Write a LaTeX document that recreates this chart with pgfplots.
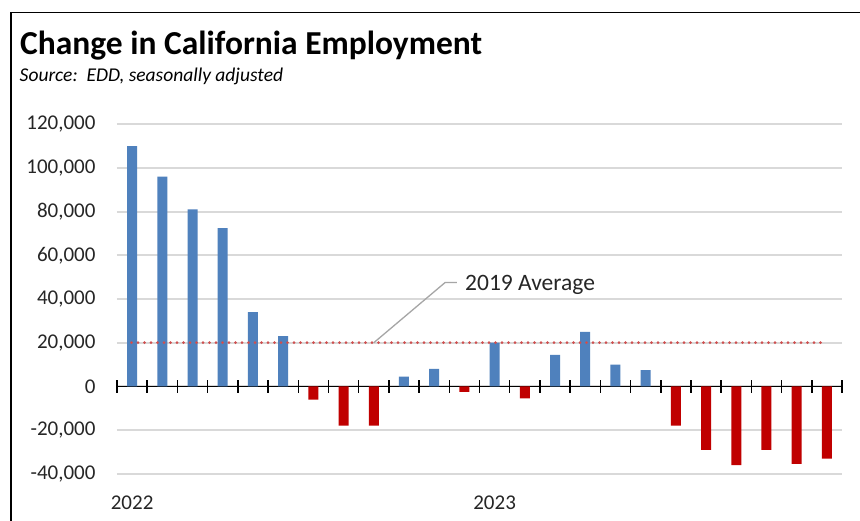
\documentclass[border=0pt]{standalone}
\usepackage{fontspec}
\setmainfont{Carlito}
\usepackage{pgfplots}
\pgfplotsset{compat=1.18}
\usepackage{pgfplotstable}
\definecolor{barblue}{HTML}{4F81BD}
\definecolor{barred}{HTML}{C00000}
\definecolor{gridgray}{HTML}{D9D9D9}
\definecolor{dotred}{HTML}{CF4F4F}
\definecolor{annogray}{HTML}{A6A6A6}
\definecolor{txt}{HTML}{262626}

\pgfplotstableread{
x y
0 110000
1 96000
2 81000
3 72500
4 34000
5 23000
9 4500
10 8000
12 20000
14 14500
15 25000
16 10000
17 7500
}\pos
\pgfplotstableread{
x y
6 -6000
7 -18000
8 -18000
11 -2500
13 -5500
18 -18000
19 -29000
20 -36000
21 -29000
22 -35500
23 -33000
}\negs

\begin{document}
\begin{tikzpicture}
\useasboundingbox (0,0) rectangle (860pt,-521pt);
\fill[white] (0,0) rectangle (860pt,-521pt);
\draw[black, line width=1.5pt] (11pt,-521pt) -- (11pt,-12.5pt) -- (860pt,-12.5pt);
\node[anchor=base west, inner sep=0pt, text=black, font=\fontsize{33.5}{40}\selectfont\bfseries] at (20pt,-55pt) {Change in California Employment};
\node[anchor=base west, inner sep=0pt, text=black, font=\fontsize{19.5}{23}\selectfont\itshape] at (19.5pt,-81.5pt) {Source:\ \ EDD, seasonally adjusted};
\begin{axis}[
  at={(117pt,-473.8pt)}, anchor=south west,
  scale only axis, width=725pt, height=349.5pt,
  xmin=-0.5, xmax=23.5, ymin=-40000, ymax=120000,
  axis x line=middle, axis y line=left,
  x axis line style={-, black, line width=1.6pt},
  y axis line style={draw=none},
  xtick={-0.5,0.5,...,23.5}, xticklabels={},
  hide obscured x ticks=false,
  xtick style={black, line width=1.5pt},
  tick align=center,
  major tick length=12.6pt,
  scaled y ticks=false,
  ytick={-40000,-20000,0,20000,40000,60000,80000,100000,120000},
  yticklabels={{-40,000},{-20,000},0,{20,000},{40,000},{60,000},{80,000},{100,000},{120,000}},
  ytick style={draw=none},
  ymajorgrids, grid style={gridgray, line width=2pt},
  yticklabel style={font=\fontsize{21}{25}\selectfont, text=txt, anchor=east, inner sep=0pt, xshift=-15pt},
  clip=false,
]
\addplot[ybar, bar width=10pt, bar shift=0pt, fill=barblue, draw=none] table[x=x,y=y] {\pos};
\addplot[ybar, bar width=10pt, bar shift=0pt, fill=barred, draw=none] table[x=x,y=y] {\negs};
\addplot[dotred, line width=3pt, line cap=round, dash pattern=on 0pt off 6.5pt] coordinates {(-0.02,20000) (22.85,20000)};
\draw[annogray, line width=1.3pt] (axis cs:8,20000) -- (axis cs:10.36,47550) -- (axis cs:10.75,47550);
\node[anchor=base west, inner sep=0pt, text=txt, font=\fontsize{23.5}{28}\selectfont] at (axis cs:11.02,43750) {2019 Average};
\node[anchor=base, inner sep=0pt, text=txt, font=\fontsize{21}{25}\selectfont, yshift=-35.2pt] at (axis cs:0,-40000) {2022};
\node[anchor=base, inner sep=0pt, text=txt, font=\fontsize{21}{25}\selectfont, yshift=-35.2pt] at (axis cs:12,-40000) {2023};
\end{axis}
\end{tikzpicture}
\end{document}
